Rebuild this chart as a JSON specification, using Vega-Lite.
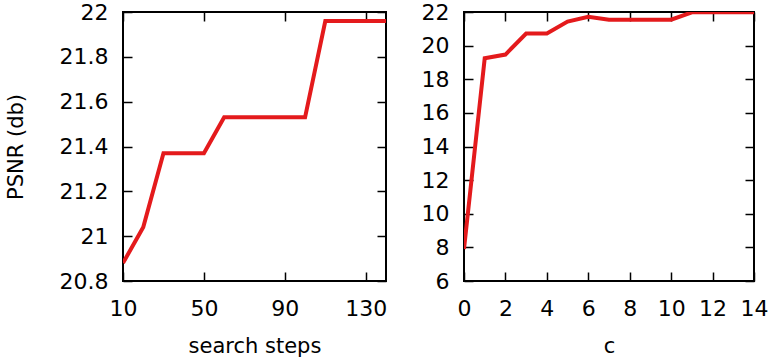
{
  "$schema": "https://vega.github.io/schema/vega-lite/v6.json",
  "padding": {"left": 4, "top": 0, "right": 0, "bottom": 0},
  "spacing": 32,
  "config": {
    "view": {"stroke": "black", "strokeWidth": 2},
    "font": "DejaVu Sans",
    "axis": {
      "labelFont": "DejaVu Sans", "labelFontSize": 22, "labelColor": "black",
      "titleFont": "DejaVu Sans", "titleFontSize": 21, "titleFontWeight": "normal", "titleColor": "black",
      "grid": false, "domain": false, "tickSize": -9, "tickColor": "black", "tickWidth": 1.5,
      "labelPadding": 26, "labelFlush": false, "labelOverlap": false, "format": ".1~f"
    }
  },
  "hconcat": [
    {
      "width": 263, "height": 269,
      "data": {"values": [
        {"steps": 10, "psnr": 20.88}, {"steps": 20, "psnr": 21.04}, {"steps": 30, "psnr": 21.37},
        {"steps": 40, "psnr": 21.37}, {"steps": 50, "psnr": 21.37}, {"steps": 60, "psnr": 21.53},
        {"steps": 70, "psnr": 21.53}, {"steps": 80, "psnr": 21.53}, {"steps": 90, "psnr": 21.53},
        {"steps": 100, "psnr": 21.53}, {"steps": 110, "psnr": 21.96}, {"steps": 120, "psnr": 21.96},
        {"steps": 130, "psnr": 21.96}, {"steps": 140, "psnr": 21.96}
      ]},
      "layer": [
        {
          "mark": {"type": "line", "color": "#e41a1c", "strokeWidth": 4, "clip": true},
          "encoding": {
            "x": {"field": "steps", "type": "quantitative", "scale": {"domain": [10, 140], "nice": false, "zero": false},
                  "axis": {"values": [10, 50, 90, 130], "title": "search steps", "titlePadding": 16}},
            "y": {"field": "psnr", "type": "quantitative", "scale": {"domain": [20.8, 22], "nice": false, "zero": false},
                  "axis": {"values": [20.8, 21, 21.2, 21.4, 21.6, 21.8, 22], "title": "PSNR (db)", "titlePadding": 33, "labelPadding": 24}}
          }
        },
        {
          "mark": {"type": "line", "opacity": 0},
          "encoding": {
            "x": {"field": "steps", "type": "quantitative", "axis": {"orient": "top", "values": [10, 50, 90, 130], "labels": false, "title": null}},
            "y": {"field": "psnr", "type": "quantitative", "axis": {"orient": "right", "values": [20.8, 21, 21.2, 21.4, 21.6, 21.8, 22], "labels": false, "title": null}}
          }
        }
      ],
      "resolve": {"axis": {"x": "independent", "y": "independent"}}
    },
    {
      "width": 290, "height": 269,
      "data": {"values": [
        {"c": 0, "psnr": 7.9}, {"c": 1, "psnr": 19.25}, {"c": 2, "psnr": 19.47}, {"c": 3, "psnr": 20.72},
        {"c": 4, "psnr": 20.72}, {"c": 5, "psnr": 21.43}, {"c": 6, "psnr": 21.72}, {"c": 7, "psnr": 21.54},
        {"c": 8, "psnr": 21.54}, {"c": 9, "psnr": 21.54}, {"c": 10, "psnr": 21.54}, {"c": 11, "psnr": 21.98},
        {"c": 12, "psnr": 21.98}, {"c": 13, "psnr": 21.98}, {"c": 14, "psnr": 21.98}
      ]},
      "layer": [
        {
          "mark": {"type": "line", "color": "#e41a1c", "strokeWidth": 4, "clip": true},
          "encoding": {
            "x": {"field": "c", "type": "quantitative", "scale": {"domain": [0, 14], "nice": false},
                  "axis": {"values": [0, 2, 4, 6, 8, 10, 12, 14], "title": "c", "titlePadding": 16}},
            "y": {"field": "psnr", "type": "quantitative", "scale": {"domain": [6, 22], "nice": false, "zero": false},
                  "axis": {"values": [6, 8, 10, 12, 14, 16, 18, 20, 22], "title": null, "labelPadding": 24}}
          }
        },
        {
          "mark": {"type": "line", "opacity": 0},
          "encoding": {
            "x": {"field": "c", "type": "quantitative", "axis": {"orient": "top", "values": [0, 2, 4, 6, 8, 10, 12, 14], "labels": false, "title": null}},
            "y": {"field": "psnr", "type": "quantitative", "axis": {"orient": "right", "values": [6, 8, 10, 12, 14, 16, 18, 20, 22], "labels": false, "title": null}}
          }
        }
      ],
      "resolve": {"axis": {"x": "independent", "y": "independent"}}
    }
  ]
}
